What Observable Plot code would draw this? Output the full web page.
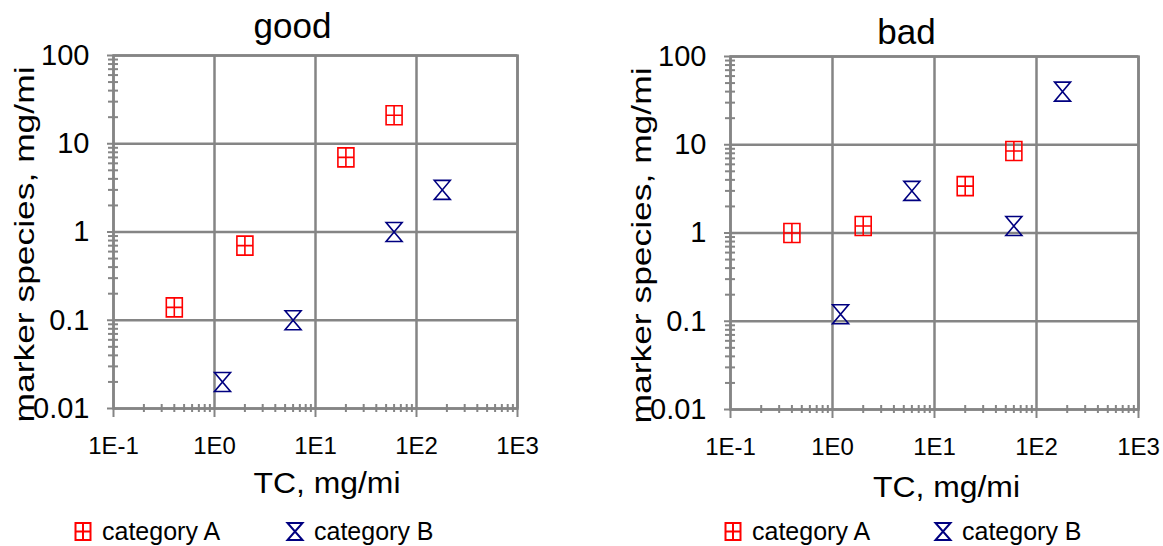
<!DOCTYPE html>
<html>
<head>
<meta charset="utf-8">
<script src="https://cdn.jsdelivr.net/npm/d3@7"></script>
<script src="https://cdn.jsdelivr.net/npm/@observablehq/plot@0.6"></script>
<style>
  body { margin: 0; background: #fff; font-family: "Liberation Sans", Arial, sans-serif; }
  #wrap { width: 1163px; height: 546px; overflow: hidden; background: #fff; }
  #charts { display: flex; height: 512px; }
  #charts svg { display: block; }
  #legend svg { display: block; }
</style>
</head>
<body>
<div id="wrap">
  <div id="charts"></div>
  <div id="legend"></div>
</div>
<script>
// ---------- data ----------
const panelTitles = ["good", "bad"];
const categories = ["category A", "category B"];

const goodAx = [0.4, 2, 20, 60];
const goodAy = [0.14, 0.7, 7, 21];
const goodBx = [1.2, 6, 60, 180];
const goodBy = [0.02, 0.1, 1, 3];

const badAx = [0.4, 2, 20, 60];
const badAy = [1.0, 1.2, 3.4, 8.5];
const badBx = [1.2, 6, 60, 180];
const badBy = [0.12, 3, 1.2, 40];

const xTicks = [0.1, 1, 10, 100, 1000];
const xTickLabels = ["1E-1", "1E0", "1E1", "1E2", "1E3"];
const yTicks = [0.01, 0.1, 1, 10, 100];
const yTickLabels = ["0.01", "0.1", "1", "10", "100"];

const xTitle = "TC, mg/mi";
const yTitle = "marker species, mg/mi";

// ---------- styling ----------
const GRAY = "#858585";
const RED = "#FF0000";
const NAVY = "#000080";
const FONT = "'Liberation Sans', Arial, sans-serif";

function minorTicks(majors) {
  const out = [];
  for (let i = 0; i < majors.length - 1; i++)
    for (let k = 2; k <= 9; k++) out.push(majors[i] * k);
  return out;
}
const xMinor = minorTicks(xTicks);
const yMinor = minorTicks(yTicks);

function boxPlus(w, h) {
  return { draw(ctx) {
    ctx.moveTo(-w, -h); ctx.lineTo(w, -h); ctx.lineTo(w, h); ctx.lineTo(-w, h); ctx.closePath();
    ctx.moveTo(0, -h); ctx.lineTo(0, h);
    ctx.moveTo(-w, 0); ctx.lineTo(w, 0);
  }};
}
function hourglass(w, h) {
  return { draw(ctx) {
    ctx.moveTo(-w, -h); ctx.lineTo(w, -h); ctx.lineTo(-w, h); ctx.lineTo(w, h); ctx.closePath();
  }};
}
const symA = boxPlus(8, 9.5);
const symB = hourglass(8, 9.5);

function pts(xs, ys) { return xs.map((x, i) => ({x, y: ys[i]})); }

function panel(title, ax, ay, bx, by, o) {
  const svg = Plot.plot({
    width: o.width, height: 512,
    marginLeft: o.ml, marginRight: o.mr, marginTop: o.mt, marginBottom: o.mb,
    style: {fontFamily: FONT, background: "white", overflow: "visible", color: "black"},
    x: {type: "log", domain: [0.1, 1000]},
    y: {type: "log", domain: [0.01, 100]},
    marks: [
      Plot.gridX(xTicks, {stroke: GRAY, strokeOpacity: 1, strokeWidth: 2.5}),
      Plot.gridY(yTicks, {stroke: GRAY, strokeOpacity: 1, strokeWidth: 2.5}),
      Plot.frame({stroke: GRAY, strokeWidth: 2.5}),
      // x ticks
      Plot.axisX({ticks: xMinor, tickSize: 8, dy: -4, fill: "none", stroke: GRAY, strokeWidth: 2, label: null}),
      Plot.axisX({ticks: xTicks, tickSize: 9, fill: "none", stroke: GRAY, strokeWidth: 2, label: null}),
      Plot.axisX({ticks: xTicks, tickSize: 0, tickPadding: 28, fontSize: 24, fill: "black",
        tickFormat: d => xTickLabels[xTicks.indexOf(d)], label: null}),
      // y ticks
      Plot.axisY({ticks: yMinor, tickSize: 10, dx: 5, fill: "none", stroke: GRAY, strokeWidth: 2, label: null}),
      Plot.axisY({ticks: yTicks, tickSize: 6, fill: "none", stroke: GRAY, strokeWidth: 2, label: null}),
      Plot.axisY({ticks: yTicks, tickSize: 0, tickPadding: 24, fontSize: 29, fill: "black",
        tickFormat: d => yTickLabels[yTicks.indexOf(d)], label: null}),
      // titles
      Plot.text([title], {text: d => d, frameAnchor: "top", lineAnchor: "bottom",
        dx: o.tdx, dy: o.tdy, fontSize: 35, fill: "black"}),
      Plot.text([xTitle], {text: d => d, frameAnchor: "bottom", lineAnchor: "bottom",
        dx: o.xdx, dy: o.xdy, fontSize: 29, fill: "black"}),
      Plot.text([yTitle], {text: d => d, frameAnchor: "left", textAnchor: "middle", lineAnchor: "middle",
        rotate: -90, dx: -88, dy: 12.5, fontSize: 27, fill: "black"}),
      // data
      Plot.dot(pts(ax, ay), {x: "x", y: "y", symbol: symA, r: 8, fill: "none", stroke: RED, strokeWidth: 1.6}),
      Plot.dot(pts(bx, by), {x: "x", y: "y", symbol: symB, r: 8, fill: "none", stroke: NAVY, strokeWidth: 1.6})
    ]
  });
  // stretch text lengths to the reference proportions
  svg.querySelectorAll("text").forEach(t => {
    const s = t.textContent;
    if (s === yTitle) { t.setAttribute("textLength", 356); t.setAttribute("lengthAdjust", "spacingAndGlyphs"); }
    if (s === xTitle) { t.setAttribute("textLength", 147); t.setAttribute("lengthAdjust", "spacingAndGlyphs"); }
  });
  return svg;
}

const charts = document.getElementById("charts");
charts.appendChild(panel(panelTitles[0], goodAx, goodAy, goodBx, goodBy,
  {width: 617, ml: 113, mr: 100, mt: 55, mb: 104, tdx: -23, tdy: -18, xdx: 11.5, xdy: 84}));
charts.appendChild(panel(panelTitles[1], badAx, badAy, badBx, badBy,
  {width: 546, ml: 113, mr: 25, mt: 56, mb: 103, tdx: -28, tdy: -13, xdx: 12, xdy: 87}));

// ---------- legends ----------
const leg = d3.select("#legend").append("svg").attr("width", 1163).attr("height", 34)
  .style("font-family", FONT);
const legSyms = [boxPlus(7.5, 8.5), hourglass(7.5, 8.5)];
const legColors = [RED, NAVY];
const legPos = [[83, 295], [733, 943]];
legPos.forEach(row => {
  row.forEach((cx, j) => {
    leg.append("path").attr("d", d3.symbol(legSyms[j])())
      .attr("transform", `translate(${cx},19.5)`)
      .attr("fill", "none").attr("stroke", legColors[j]).attr("stroke-width", 2);
    leg.append("text").attr("x", cx + 19).attr("y", 28).attr("font-size", 25)
      .attr("fill", "black").text(categories[j]);
  });
});
</script>
</body>
</html>
